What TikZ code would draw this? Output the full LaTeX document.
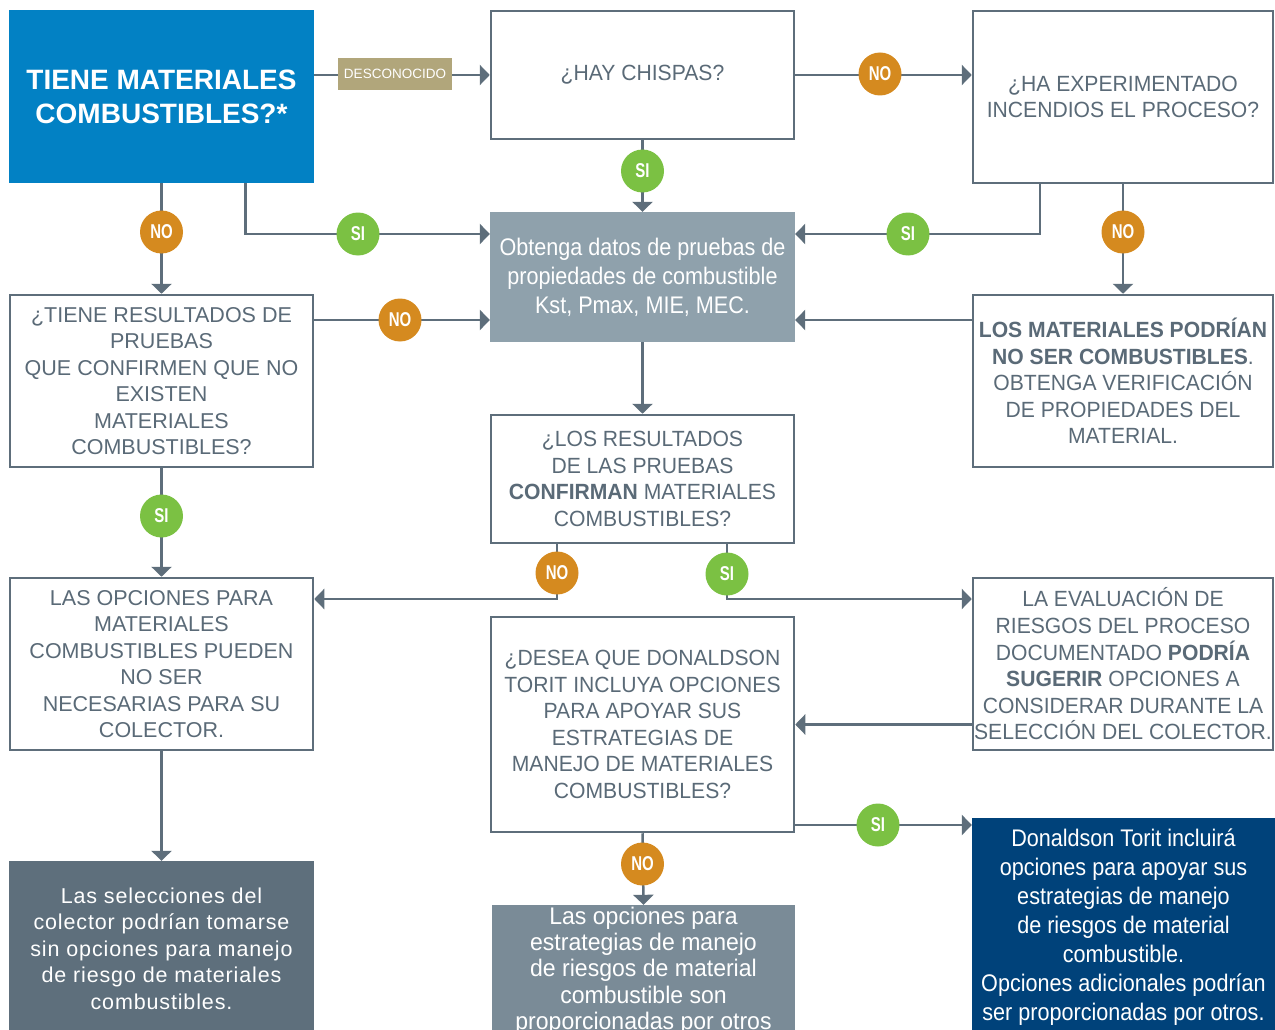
\documentclass[tikz,border=0pt]{standalone}
\usepackage{fontspec}
\setmainfont{Liberation Sans}
\newfontfamily\condf[FakeStretch=0.96]{Liberation Sans}
\newfontfamily\condD[FakeStretch=0.9]{Liberation Sans}
\newfontfamily\badgef[FakeStretch=0.75]{Liberation Sans}
\newfontfamily\trackf[LetterSpace=4]{Liberation Sans}
\usetikzlibrary{arrows.meta,backgrounds,calc}
\definecolor{lineg}{HTML}{5E6E7B}
\definecolor{txtg}{HTML}{5A6A77}
\definecolor{blueA}{HTML}{0281C4}
\definecolor{khaki}{HTML}{B1A67B}
\definecolor{fillD}{HTML}{8FA1AC}
\definecolor{fillK}{HTML}{5E6F7C}
\definecolor{fillL}{HTML}{7A8B97}
\definecolor{navyM}{HTML}{00427A}
\definecolor{orangeNo}{HTML}{D58A1F}
\definecolor{greenSi}{HTML}{7BC143}
\tikzset{
  box/.style={draw=lineg, line width=2.5pt, fill=white, text=txtg, align=center, inner sep=0pt},
  solidbox/.style={draw=none, text=white, align=center, inner sep=0pt},
  regtxt/.style={font=\fontsize{21.5}{26.5}\selectfont},
  condtxt/.style={font=\condf\fontsize{22}{26.6}\selectfont},
  badge/.style={circle, minimum size=43pt, inner sep=0pt, text=white, font=\badgef\bfseries\fontsize{20}{20}\selectfont},
  nobadge/.style={badge, fill=orangeNo},
  sibadge/.style={badge, fill=greenSi},
  conn/.style={draw=lineg, line width=2.5pt, -{Triangle[width=20pt,length=10pt]}},
}
\begin{document}
\begin{tikzpicture}[x=1pt,y=-1pt]
\useasboundingbox (0,0) rectangle (1275,1030);
\clip (0,0) rectangle (1275,1030);

% boxes
\node[solidbox, fill=blueA, minimum width=305pt, minimum height=173pt,
      font=\bfseries\fontsize{28}{34}\selectfont] (A) at (161.5,96.5)
      {TIENE MATERIALES\\COMBUSTIBLES?*};
\node[box, condtxt, minimum width=303pt, minimum height=128pt] (B) at (642.5,75) {¿HAY CHISPAS?};
\node[box, condtxt, minimum width=300pt, minimum height=172pt] (C) at (1123,97)
      {¿HA EXPERIMENTADO\\INCENDIOS EL PROCESO?};
\node[solidbox, fill=fillD, minimum width=305pt, minimum height=130pt,
      font=\condD\fontsize{24}{29}\selectfont] (D) at (642.5,277)
      {Obtenga datos de pruebas de\\propiedades de combustible\\Kst, Pmax, MIE, MEC.};
\node[box, regtxt, minimum width=303pt, minimum height=172pt] (E) at (161.5,381)
      {¿TIENE RESULTADOS DE\\PRUEBAS\\QUE CONFIRMEN QUE NO\\EXISTEN\\MATERIALES\\COMBUSTIBLES?};
\node[box, condtxt, minimum width=300pt, minimum height=172pt] (F) at (1123,381)
      {\textbf{LOS MATERIALES PODRÍAN}\\\textbf{NO SER COMBUSTIBLES}.\\OBTENGA VERIFICACIÓN\\DE PROPIEDADES DEL\\MATERIAL.};
\node[box, condtxt, minimum width=303pt, minimum height=128pt] (G) at (642.5,479)
      {¿LOS RESULTADOS\\DE LAS PRUEBAS\\\textbf{CONFIRMAN} MATERIALES\\COMBUSTIBLES?};
\node[box, regtxt, minimum width=303pt, minimum height=172pt] (H) at (161.5,664)
      {LAS OPCIONES PARA\\MATERIALES\\COMBUSTIBLES PUEDEN\\NO SER\\NECESARIAS PARA SU\\COLECTOR.};
\node[box, condtxt, minimum width=300pt, minimum height=172pt] (I) at (1123,664)
      {LA EVALUACIÓN DE\\RIESGOS DEL PROCESO\\DOCUMENTADO \textbf{PODRÍA}\\\textbf{SUGERIR} OPCIONES A\\CONSIDERAR DURANTE LA\\SELECCIÓN DEL COLECTOR.};
\node[box, condtxt, minimum width=303pt, minimum height=215pt] (J) at (642.5,724.5)
      {¿DESEA QUE DONALDSON\\TORIT INCLUYA OPCIONES\\PARA APOYAR SUS\\ESTRATEGIAS DE\\MANEJO DE MATERIALES\\COMBUSTIBLES?};
\node[solidbox, fill=fillK, minimum width=305pt, minimum height=175pt,
      font=\trackf\fontsize{21.5}{26.5}\selectfont] (K) at (161.5,948.5)
      {Las selecciones del\\colector podrían tomarse\\sin opciones para manejo\\de riesgo de materiales\\combustibles.};
\node[solidbox, fill=fillL, minimum width=303pt, minimum height=131pt,
      font=\condf\fontsize{24}{26.3}\selectfont] (L) at (643.5,970.5)
      {Las opciones para\\estrategias de manejo\\de riesgos de material\\combustible son\\proporcionadas por otros};
\node[solidbox, fill=navyM, minimum width=303pt, minimum height=218pt,
      font=\condD\fontsize{24}{29}\selectfont] (M) at (1123.5,927)
      {Donaldson Torit incluirá\\opciones para apoyar sus\\estrategias de manejo\\de riesgos de material\\combustible.\\Opciones adicionales podrían\\ser proporcionadas por otros.};

% badges and label
\node[fill=khaki, text=white, minimum width=114pt, minimum height=32pt, inner sep=0pt,
      font=\fontsize{13.5}{13.5}\selectfont] (desc) at (395,74) {DESCONOCIDO};
\node[nobadge] (noB) at (880,74) {NO};
\node[sibadge] (siB) at (642.5,171) {SI};
\node[nobadge] (noA) at (161.5,232) {NO};
\node[sibadge] (siA) at (358,234) {SI};
\node[sibadge] (siC) at (908,234) {SI};
\node[nobadge] (noC) at (1123,232) {NO};
\node[nobadge] (noE) at (400,320) {NO};
\node[sibadge] (siE) at (161.5,516) {SI};
\node[nobadge] (noG) at (557,573) {NO};
\node[sibadge] (siG) at (727,574) {SI};
\node[sibadge] (siJ) at (878,825) {SI};
\node[nobadge] (noJ) at (642.5,864) {NO};

% connectors
\begin{scope}[on background layer]
\draw[conn] (A.east |- B.west) -- (B.west);
\draw[conn] (B.east) -- (C.west |- B.east);
\draw[conn] (B.south) -- (D.north);
\draw[conn] (A.south) -- (E.north);
\draw[conn] ([xshift=84pt]A.south) |- (D.west |- siA);
\draw[conn] ([xshift=-83pt]C.south) |- (D.east |- siC);
\draw[conn] (C.south) -- (F.north);
\draw[conn] (E.east |- noE) -- (D.west |- noE);
\draw[conn] (F.west |- noE) -- (D.east |- noE);
\draw[conn] (D.south) -- (G.north);
\draw[conn] (E.south) -- (H.north);
\draw[conn] (noG |- G.south) |- ([yshift=65pt]H.east);
\draw[conn] (siG |- G.south) |- ([yshift=65pt]I.west);
\draw[conn] (I.west |- J.east) -- (J.east);
\draw[conn] (J.east |- siJ) -- (M.west |- siJ);
\draw[conn] (J.south) -- (L.north);
\draw[conn] (H.south) -- (K.north);
\end{scope}
\end{tikzpicture}
\end{document}
